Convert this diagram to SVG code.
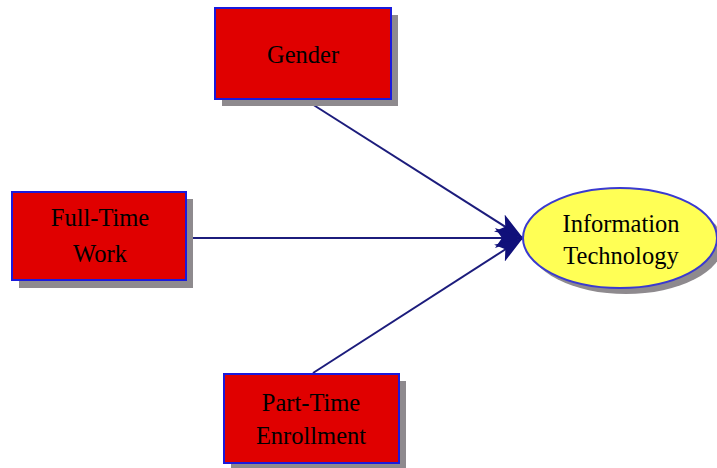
<svg xmlns="http://www.w3.org/2000/svg" width="717" height="468" viewBox="0 0 717 468">
  <style>
    .box { fill: #e00000; stroke: #1a1adc; stroke-width: 2; }
    .shadow { fill: #8e8a8e; }
    .oval { fill: #ffff55; stroke: #3a3ad0; stroke-width: 2; }
    .label { font-family: "Liberation Serif", "Times New Roman", serif; font-size: 24.5px; fill: #000; text-anchor: middle; }
    .edge { stroke: #1c1c7c; stroke-width: 2; fill: none; marker-end: url(#arrow); }
  </style>
  <defs>
    <marker id="arrow" viewBox="0 0 28 20" refX="28" refY="10" markerWidth="28" markerHeight="20" markerUnits="userSpaceOnUse" orient="auto">
      <path d="M0,0 L28,10 L0,20 L7,10 Z" fill="#10107a"/>
    </marker>
  </defs>
  <rect width="717" height="468" fill="#ffffff"/>

  <g id="connectors">
    <line class="edge" x1="312" y1="104" x2="523" y2="238"/>
    <line class="edge" x1="193" y1="238" x2="523" y2="238"/>
    <line class="edge" x1="313" y1="373" x2="523" y2="238"/>
  </g>

  <g id="gender">
    <rect class="shadow" x="222" y="15" width="176" height="91"/>
    <rect class="box" x="215" y="8" width="176" height="91"/>
    <text class="label" x="303" y="63">Gender</text>
  </g>

  <g id="full-time-work">
    <rect class="shadow" x="19" y="199" width="174" height="89"/>
    <rect class="box" x="12" y="192" width="174" height="88"/>
    <text class="label" x="100" y="226">Full-Time</text>
    <text class="label" x="100" y="262">Work</text>
  </g>

  <g id="part-time-enrollment">
    <rect class="shadow" x="231" y="381" width="175" height="89"/>
    <rect class="box" x="224" y="374" width="175" height="89"/>
    <text class="label" x="311" y="411">Part-Time</text>
    <text class="label" x="311" y="444">Enrollment</text>
  </g>

  <g id="information-technology">
    <ellipse class="shadow" cx="626" cy="244" rx="97" ry="50"/>
    <ellipse class="oval" cx="620" cy="238" rx="97" ry="50"/>
    <text class="label" x="621" y="232">Information</text>
    <text class="label" x="621" y="264">Technology</text>
  </g>
</svg>
